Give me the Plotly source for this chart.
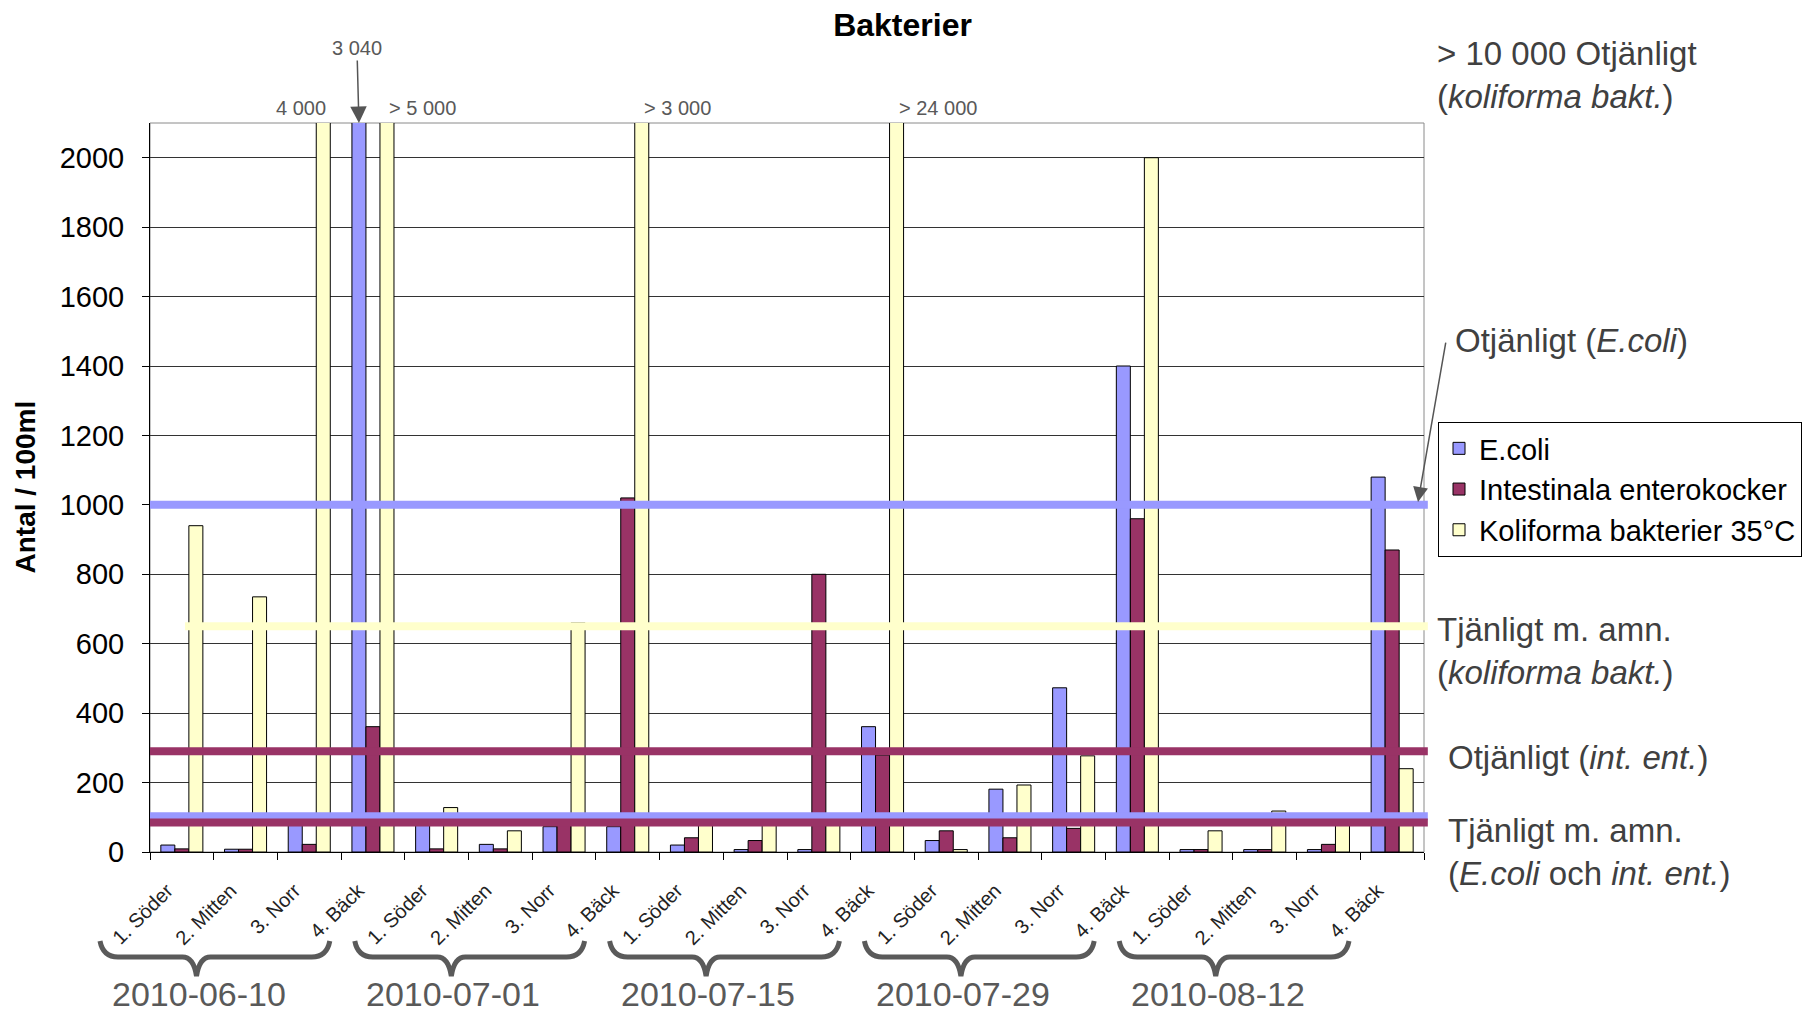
import plotly.graph_objects as go

# ---------------- data ----------------
dates = ["2010-06-10", "2010-07-01", "2010-07-15", "2010-07-29", "2010-08-12"]
sites = ["1. Söder", "2. Mitten", "3. Norr", "4. Bäck"]
series_names = ["E.coli", "Intestinala enterokocker", "Koliforma bakterier 35°C"]
series_colors = ["#9999FF", "#993366", "#FFFFCC"]

ecoli = [20, 8, 77, 3040, 77, 22, 73, 73, 20, 7, 7, 361, 33, 181, 473, 1400, 7, 7, 7, 1080]
enterokocker = [9, 8, 22, 361, 9, 9, 90, 1020, 41, 33, 800, 279, 61, 41, 68, 960, 7, 7, 22, 870]
koliforma = [940, 735, 4000, 5000, 128, 61, 660, 3000, 90, 90, 90, 24000, 7, 193, 277, 2000, 61, 118, 90, 240]

# values that go beyond the axis, written above the plot
overflow_text = ["4 000", "3 040", "> 5 000", "> 3 000", "> 24 000"]
overflow_cat = [2, 3, 3, 7, 11]
overflow_series = [2, 0, 2, 2, 2]
overflow_anchor = ["right", "center", "left", "left", "left"]

# guideline (threshold) lines
threshold_values = [1000, 650, 290, 103, 85]
threshold_series = [0, 2, 1, 0, 1]
threshold_start = [0.0, 0.0275, 0.0, 0.0, 0.0]   # paper x where line begins

y_ticks = [0, 200, 400, 600, 800, 1000, 1200, 1400, 1600, 1800, 2000]
y_max = 2100

# ---------------- geometry ----------------
W, H = 1805, 1014
ML, MR, MT, MB = 150, 381, 123, 162
PW, PH = W - ML - MR, H - MT - MB
n_cat = len(dates) * len(sites)
cat_w = PW / n_cat
bargap = 0.34
bar_w = (1 - bargap) / 3

FONT = "Liberation Sans, Arial, sans-serif"


def pxx(px):
    return (px - ML) / PW


def pxy(py):
    return (H - MB - py) / PH


x = list(range(n_cat))
tick_text = [s for _ in dates for s in sites]
values = [ecoli, enterokocker, koliforma]

fig = go.Figure()
for name, col, vals in zip(series_names, series_colors, values):
    fig.add_trace(go.Bar(
        x=x, y=vals, name=name,
        marker=dict(color=col, line=dict(color="black", width=1)),
    ))

shapes = []
# plot frame (grey)
shapes.append(dict(type="rect", xref="paper", yref="paper", x0=0, x1=1, y0=0, y1=1,
                   line=dict(color="#8a8a8a", width=1), layer="below"))
# threshold lines
for v, s, x0 in zip(threshold_values, threshold_series, threshold_start):
    shapes.append(dict(type="line", xref="paper", yref="y", x0=x0, x1=1.003, y0=v, y1=v,
                       line=dict(color=series_colors[s], width=8), layer="above"))

# braces under each date group
annotations = []
for g, d in enumerate(dates):
    left = ML + 4 * g * cat_w - 50
    right = ML + (4 * g + 4) * cat_w - 75
    dip = left + 0.42 * (right - left)
    yt, yh, yd = 941, 957, 976
    pts = [
        ("M", [(left, yt)]),
        ("Q", [(left + 3, yh), (left + 18, yh)]),
        ("L", [(dip - 14, yh)]),
        ("Q", [(dip - 3, yh), (dip, yd)]),
        ("Q", [(dip + 3, yh), (dip + 14, yh)]),
        ("L", [(right - 18, yh)]),
        ("Q", [(right - 3, yh), (right, yt)]),
    ]
    path = " ".join(cmd + " " + " ".join(f"{pxx(a):.5f},{pxy(b):.5f}" for a, b in p) for cmd, p in pts)
    shapes.append(dict(type="path", xref="paper", yref="paper", path=path,
                       line=dict(color="#5a5a5a", width=5)))
    annotations.append(dict(xref="paper", yref="paper", x=pxx(dip + 2), y=pxy(994),
                            text=d, showarrow=False, xanchor="center", yanchor="middle",
                            font=dict(family=FONT, size=34, color="#595959")))

# overflow labels above the plot
for t, c, s, a in zip(overflow_text, overflow_cat, overflow_series, overflow_anchor):
    xpos = c + (s - 1) * bar_w
    if a == "center":
        annotations.append(dict(x=xpos, y=y_max, xref="x", yref="y", text=t, showarrow=True,
                                ax=-2, ay=-75, arrowhead=2, arrowsize=2.2, arrowwidth=1.5,
                                arrowcolor="#555555",
                                font=dict(family=FONT, size=20, color="#595959")))
    else:
        annotations.append(dict(x=xpos, y=y_max, xref="x", yref="y", text=t, showarrow=False,
                                xanchor=a, yanchor="bottom", yshift=2,
                                xshift=5 if a == "right" else 0,
                                font=dict(family=FONT, size=20, color="#595959")))

# right hand side notes
notes = [
    ("> 10 000 Otjänligt<br>(<i>koliforma bakt.</i>)", 1435, 75),
    ("Otjänligt (<i>E.coli</i>)", 1453, 340),
    ("Tjänligt m. amn.<br>(<i>koliforma bakt.</i>)", 1435, 651),
    ("Otjänligt (<i>int. ent.</i>)", 1446, 757),
    ("Tjänligt m. amn.<br>(<i>E.coli</i> och <i>int. ent.</i>)", 1446, 852),
]
for t, px, py in notes:
    annotations.append(dict(xref="paper", yref="paper", x=pxx(px), y=pxy(py), text=t,
                            showarrow=False, xanchor="left", yanchor="middle", align="left",
                            font=dict(family=FONT, size=33, color="#404040")))
# arrow to E.coli limit line
annotations.append(dict(xref="paper", yref="y", x=pxx(1418), y=threshold_values[0] + 8, text="",
                        showarrow=True, ax=28, ay=-161, arrowhead=2, arrowsize=2,
                        arrowwidth=1.5, arrowcolor="#555555"))
# y axis title
annotations.append(dict(xref="paper", yref="paper", x=pxx(25), y=0.5, text="<b>Antal / 100ml</b>",
                        textangle=-90, showarrow=False, xanchor="center", yanchor="middle",
                        font=dict(family=FONT, size=28, color="black")))

fig.update_layout(
    width=W, height=H,
    margin=dict(l=ML, r=MR, t=MT, b=MB, autoexpand=False),
    paper_bgcolor="white", plot_bgcolor="white",
    barmode="group", bargap=bargap, bargroupgap=0,
    title=dict(text="<b>Bakterier</b>", x=0.5, xref="container", xanchor="center",
               y=1 - 25 / H, yref="container", yanchor="middle",
               font=dict(family=FONT, size=32, color="black")),
    font=dict(family=FONT, color="black"),
    legend=dict(x=pxx(1438), y=pxy(422), xanchor="left", yanchor="top",
                bordercolor="black", borderwidth=1, bgcolor="white",
                font=dict(family=FONT, size=29, color="black"), traceorder="normal"),
    shapes=shapes,
    annotations=annotations,
)
# tick labels shifted slightly left of the category centres (rotated text ends left of centre)
label_shift = 0.23
fig.update_xaxes(
    range=[-0.5, n_cat - 0.5], tickmode="array", tickvals=[i - label_shift for i in x],
    ticktext=tick_text,
    tickangle=-45, ticks="", showgrid=False, zeroline=False,
    showline=True, linecolor="black", linewidth=1,
    tickfont=dict(family=FONT, size=20, color="#222"), ticklabelstandoff=18,
    minor=dict(tickmode="array", tickvals=[i - 0.5 for i in range(n_cat + 1)],
               ticks="outside", ticklen=7, tickcolor="black", showgrid=False),
)
fig.update_yaxes(
    range=[0, y_max], tickmode="array", tickvals=y_ticks, ticktext=[str(v) for v in y_ticks],
    ticks="outside", ticklen=7, tickcolor="black", showline=True, linecolor="black",
    showgrid=True, gridcolor="#333333", gridwidth=1, zeroline=False,
    tickfont=dict(family=FONT, size=29, color="black"), ticklabelstandoff=12,
)

fig.write_html("out.html", config={"displayModeBar": False},
               post_script="document.body.style.margin='0px';document.body.style.overflow='hidden';")
